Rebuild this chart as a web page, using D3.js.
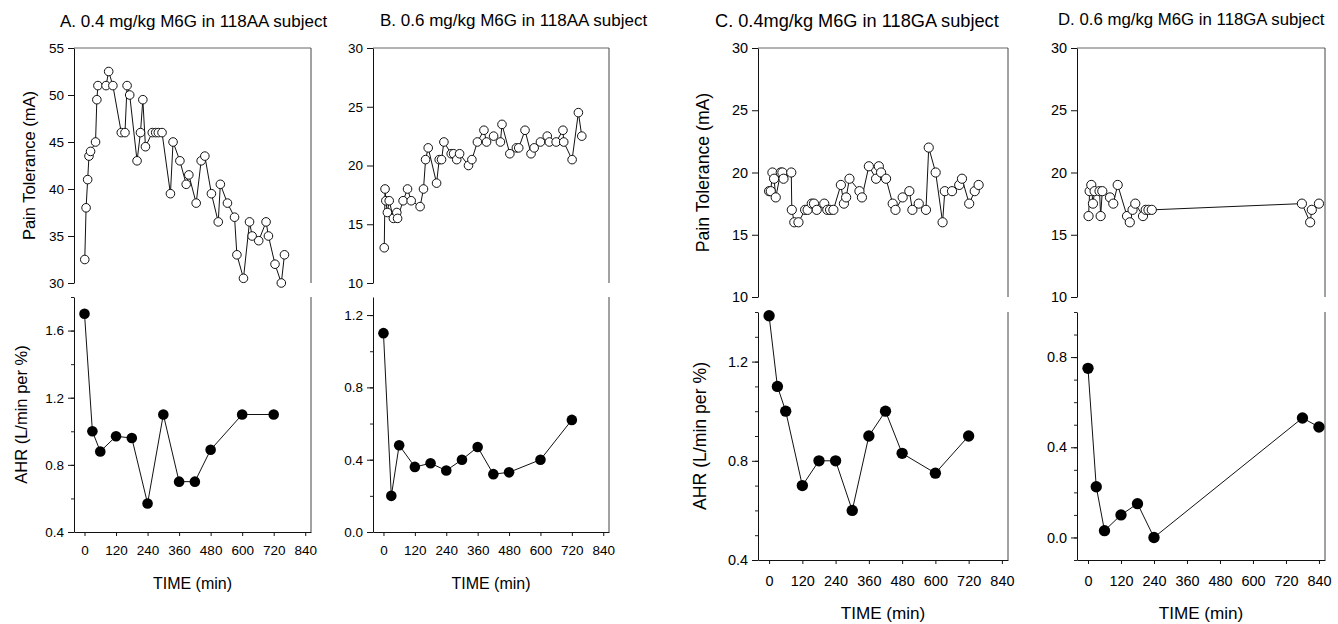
<!DOCTYPE html>
<html>
<head>
<meta charset="utf-8">
<script src="https://cdn.jsdelivr.net/npm/d3@7"></script>
<style>
  body { margin: 0; background: #fff; }
  svg { display: block; font-family: "Liberation Sans", Arial, sans-serif; }
</style>
</head>
<body>
<svg id="chart" width="1338" height="624"></svg>
<script>
// ---- data ----
var panelTitles = [
  'A. 0.4 mg/kg M6G in 118AA subject',
  'B. 0.6 mg/kg M6G in 118AA subject',
  'C. 0.4mg/kg M6G in 118GA subject',
  'D. 0.6 mg/kg M6G in 118GA subject'
];
var timeTicks = [0, 120, 240, 360, 480, 600, 720, 840];
var painLabel = 'Pain Tolerance (mA)';
var ahrLabel = 'AHR (L/min per %)';
var timeLabel = 'TIME (min)';

var painTimeA = [1, 6, 12, 17, 23, 42, 47, 51, 82, 92, 108, 140, 154, 162, 172, 200, 213, 222, 232, 258, 271, 281, 295, 327, 337, 363, 387, 397, 425, 444, 458, 483, 509, 517, 544, 571, 580, 605, 628, 638, 663, 691, 700, 725, 749, 761];
var painA = [32.5, 38, 41, 43.5, 44, 45, 49.5, 51, 51, 52.5, 51, 46, 46, 51, 50, 43, 46, 49.5, 44.5, 46, 46, 46, 46, 39.5, 45, 43, 40.5, 41.5, 38.5, 43, 43.5, 39.5, 36.5, 40.5, 38.5, 37, 33, 30.5, 36.5, 35, 34.5, 36.5, 35, 32, 30, 33];
var ahrTimeA = [0, 30, 60, 120, 180, 240, 300, 360, 420, 480, 600, 720];
var ahrA = [1.7, 1.0, 0.88, 0.97, 0.96, 0.57, 1.1, 0.7, 0.7, 0.89, 1.1, 1.1];

var painTimeB = [3, 6, 9, 15, 22, 38, 51, 54, 75, 92, 106, 140, 153, 161, 171, 203, 213, 222, 231, 259, 268, 280, 291, 325, 338, 359, 384, 394, 421, 447, 453, 483, 508, 517, 541, 564, 576, 600, 626, 634, 660, 686, 689, 721, 745, 758];
var painB = [13, 18, 17, 16, 17, 15.5, 16, 15.5, 17, 18, 17, 16.5, 18, 20.5, 21.5, 18.5, 20.5, 20.5, 22, 21, 21, 20.5, 21, 20, 20.5, 22, 23, 22, 22.5, 22, 23.5, 21, 21.5, 21.5, 23, 21, 21.5, 22, 22.5, 22, 22, 23, 22, 20.5, 24.5, 22.5];
var ahrTimeB = [0, 30, 60, 120, 180, 240, 300, 360, 420, 480, 600, 720];
var ahrB = [1.1, 0.2, 0.48, 0.36, 0.38, 0.34, 0.4, 0.47, 0.32, 0.33, 0.4, 0.62];

var painTimeC = [0, 6, 12, 18, 24, 42, 48, 52, 80, 82, 91, 106, 130, 139, 154, 162, 172, 199, 210, 220, 232, 259, 270, 278, 290, 326, 335, 360, 386, 396, 404, 422, 446, 456, 482, 506, 517, 540, 566, 576, 601, 626, 634, 660, 686, 696, 722, 742, 756];
var painC = [18.5, 18.5, 20, 19.5, 18, 20, 20, 19.5, 20, 17, 16, 16, 17, 17, 17.5, 17.5, 17, 17.5, 17, 17, 17, 19, 17.5, 18, 19.5, 18.5, 18, 20.5, 19.5, 20.5, 20, 19.5, 17.5, 17, 18, 18.5, 17, 17.5, 17, 22, 20, 16, 18.5, 18.5, 19, 19.5, 17.5, 18.5, 19];
var ahrTimeC = [0, 30, 60, 120, 180, 240, 300, 360, 420, 480, 600, 720];
var ahrC = [1.385, 1.1, 1.0, 0.7, 0.8, 0.8, 0.6, 0.9, 1.0, 0.83, 0.75, 0.9];

var painTimeD = [2, 6, 12, 18, 24, 42, 46, 52, 80, 92, 108, 142, 152, 162, 172, 200, 210, 220, 232, 778, 808, 814, 840];
var painD = [16.5, 18.5, 19, 17.5, 18.5, 18.5, 16.5, 18.5, 18, 17.5, 19, 16.5, 16, 17, 17.5, 16.5, 17, 17, 17, 17.5, 16, 17, 17.5];
var ahrTimeD = [0, 30, 60, 120, 180, 240, 780, 840];
var ahrD = [0.75, 0.225, 0.03, 0.1, 0.15, 0, 0.53, 0.49];

// ---- layout ----
var xDomain = [-40, 862];

var panels = [
  { title: panelTitles[0], titleX: 60, titleY: 27, titleSize: 17, left: 74, right: 311, top: 48, painBottom: 283, ahrTop: 297, bottom: 532,
    painDomain: [30, 55], painTicks: [30, 35, 40, 45, 50, 55],
    ahrDomain: [0.4, 1.8], ahrTicks: [0.4, 0.8, 1.2, 1.6], minorStep: 0.2,
    painT: painTimeA, painV: painA, ahrT: ahrTimeA, ahrV: ahrA,
    yLabels: true, painLabelX: 29, ahrLabelX: 21, k: 1 },
  { title: panelTitles[1], titleX: 380, titleY: 26, titleSize: 17, left: 373, right: 609, top: 48, painBottom: 283, ahrTop: 297, bottom: 532,
    painDomain: [10, 30], painTicks: [10, 15, 20, 25, 30],
    ahrDomain: [0, 1.3], ahrTicks: [0, 0.4, 0.8, 1.2], minorStep: 0.2,
    painT: painTimeB, painV: painB, ahrT: ahrTimeB, ahrV: ahrB,
    yLabels: false, k: 1 },
  { title: panelTitles[2], titleX: 715, titleY: 27, titleSize: 18.2, left: 758, right: 1008, top: 48, painBottom: 297, ahrTop: 312, bottom: 560,
    painDomain: [10, 30], painTicks: [10, 15, 20, 25, 30],
    ahrDomain: [0.4, 1.4], ahrTicks: [0.4, 0.8, 1.2], minorStep: 0.1,
    painT: painTimeC, painV: painC, ahrT: ahrTimeC, ahrV: ahrC,
    yLabels: true, painLabelX: 703, ahrLabelX: 700, k: 1.07 },
  { title: panelTitles[3], titleX: 1058, titleY: 25, titleSize: 16.8, left: 1077, right: 1325, top: 48, painBottom: 297, ahrTop: 312, bottom: 560,
    painDomain: [10, 30], painTicks: [10, 15, 20, 25, 30],
    ahrDomain: [-0.1, 1.0], ahrTicks: [0, 0.4, 0.8], minorStep: 0.1,
    painT: painTimeD, painV: painD, ahrT: ahrTimeD, ahrV: ahrD,
    yLabels: false, k: 1.07 }
];

var svg = d3.select('#chart');

panels.forEach(drawPanel);

//--------------------------------------------------

function drawPanel(p) {
  var g = svg.append('g');
  var k = p.k;

  var x = d3.scaleLinear().domain(xDomain).range([p.left, p.right]);
  var yPain = d3.scaleLinear().domain(p.painDomain).range([p.painBottom, p.top]);
  var yAhr = d3.scaleLinear().domain(p.ahrDomain).range([p.bottom, p.ahrTop]);

  // frame lines (top + right of upper plot, right of lower plot)
  g.append('line')
    .attr('x1', p.left).attr('x2', p.right)
    .attr('y1', p.top).attr('y2', p.top)
    .style('stroke', '#666').style('stroke-width', 1);
  g.append('line')
    .attr('x1', p.right).attr('x2', p.right)
    .attr('y1', p.top).attr('y2', p.painBottom)
    .style('stroke', '#444').style('stroke-width', 1);
  g.append('line')
    .attr('x1', p.right).attr('x2', p.right)
    .attr('y1', p.ahrTop).attr('y2', p.bottom)
    .style('stroke', '#444').style('stroke-width', 1);

  // upper y axis
  var painAxis = g.append('g')
    .attr('transform', 'translate(' + p.left + ',0)')
    .call(d3.axisLeft(yPain).tickValues(p.painTicks).tickSize(6).tickSizeOuter(0).tickPadding(4).tickFormat(d3.format('d')));
  styleAxis(painAxis, 13.5 * k);

  // lower y axis + minor ticks
  var minor = d3.range(p.ahrDomain[0], p.ahrDomain[1] + 1e-6, p.minorStep);
  var minorAxis = g.append('g')
    .attr('transform', 'translate(' + p.left + ',0)')
    .call(d3.axisLeft(yAhr).tickValues(minor).tickSize(3).tickSizeOuter(0).tickFormat(''));
  minorAxis.select('.domain').remove();
  minorAxis.selectAll('line').style('stroke', '#222');

  var ahrAxis = g.append('g')
    .attr('transform', 'translate(' + p.left + ',0)')
    .call(d3.axisLeft(yAhr).tickValues(p.ahrTicks).tickSize(6).tickSizeOuter(0).tickPadding(4).tickFormat(d3.format('.1f')));
  styleAxis(ahrAxis, 13.5 * k);

  // x axis
  var xAxis = g.append('g')
    .attr('transform', 'translate(0,' + p.bottom + ')')
    .call(d3.axisBottom(x).tickValues(timeTicks).tickSize(4).tickSizeOuter(0).tickPadding(k > 1 ? 12 : 9));
  styleAxis(xAxis, 13.5 * k);

  // titles & labels
  g.append('text')
    .attr('x', p.titleX).attr('y', p.titleY)
    .style('font-size', p.titleSize + 'px')
    .text(p.title);

  g.append('text')
    .attr('x', (p.left + p.right) / 2)
    .attr('y', p.bottom + (k > 1 ? 59 : 57))
    .attr('text-anchor', 'middle')
    .style('font-size', (16 * k) + 'px')
    .text(timeLabel);

  if (p.yLabels) {
    g.append('text')
      .attr('transform', 'translate(' + p.painLabelX + ',' + (p.top + p.painBottom) / 2 + ') rotate(-90)')
      .attr('text-anchor', 'middle')
      .attr('dy', '0.35em')
      .style('font-size', (16.5 * k) + 'px')
      .text(painLabel);
    g.append('text')
      .attr('transform', 'translate(' + p.ahrLabelX + ',' + (p.ahrTop + p.bottom) / 2 + ') rotate(-90)')
      .attr('text-anchor', 'middle')
      .attr('dy', '0.35em')
      .style('font-size', (16.5 * k) + 'px')
      .text(ahrLabel);
  }

  // series
  var painData = p.painT.map(function(t, i) { return { t: t, v: p.painV[i] }; });
  var ahrData = p.ahrT.map(function(t, i) { return { t: t, v: p.ahrV[i] }; });

  var painLine = d3.line()
    .x(function(d) { return x(d.t); })
    .y(function(d) { return yPain(d.v); });
  var ahrLine = d3.line()
    .x(function(d) { return x(d.t); })
    .y(function(d) { return yAhr(d.v); });

  g.append('path')
    .datum(painData)
    .attr('d', painLine)
    .style('fill', 'none').style('stroke', '#111').style('stroke-width', 1);

  g.selectAll('.pain-dot')
    .data(painData)
    .enter().append('circle')
    .attr('class', 'pain-dot')
    .attr('cx', function(d) { return x(d.t); })
    .attr('cy', function(d) { return yPain(d.v); })
    .attr('r', 4.3 * k)
    .style('fill', '#fff').style('stroke', '#111').style('stroke-width', 1);

  g.append('path')
    .datum(ahrData)
    .attr('d', ahrLine)
    .style('fill', 'none').style('stroke', '#111').style('stroke-width', 1);

  g.selectAll('.ahr-dot')
    .data(ahrData)
    .enter().append('circle')
    .attr('class', 'ahr-dot')
    .attr('cx', function(d) { return x(d.t); })
    .attr('cy', function(d) { return yAhr(d.v); })
    .attr('r', 5.3 * k)
    .style('fill', '#000');
}

function styleAxis(sel, fontSize) {
  sel.attr('font-family', null).attr('font-size', null);
  sel.selectAll('text').style('font-size', fontSize + 'px').style('fill', '#000');
  sel.selectAll('line').style('stroke', '#111');
  sel.select('.domain').style('stroke', '#111');
}
</script>
</body>
</html>
